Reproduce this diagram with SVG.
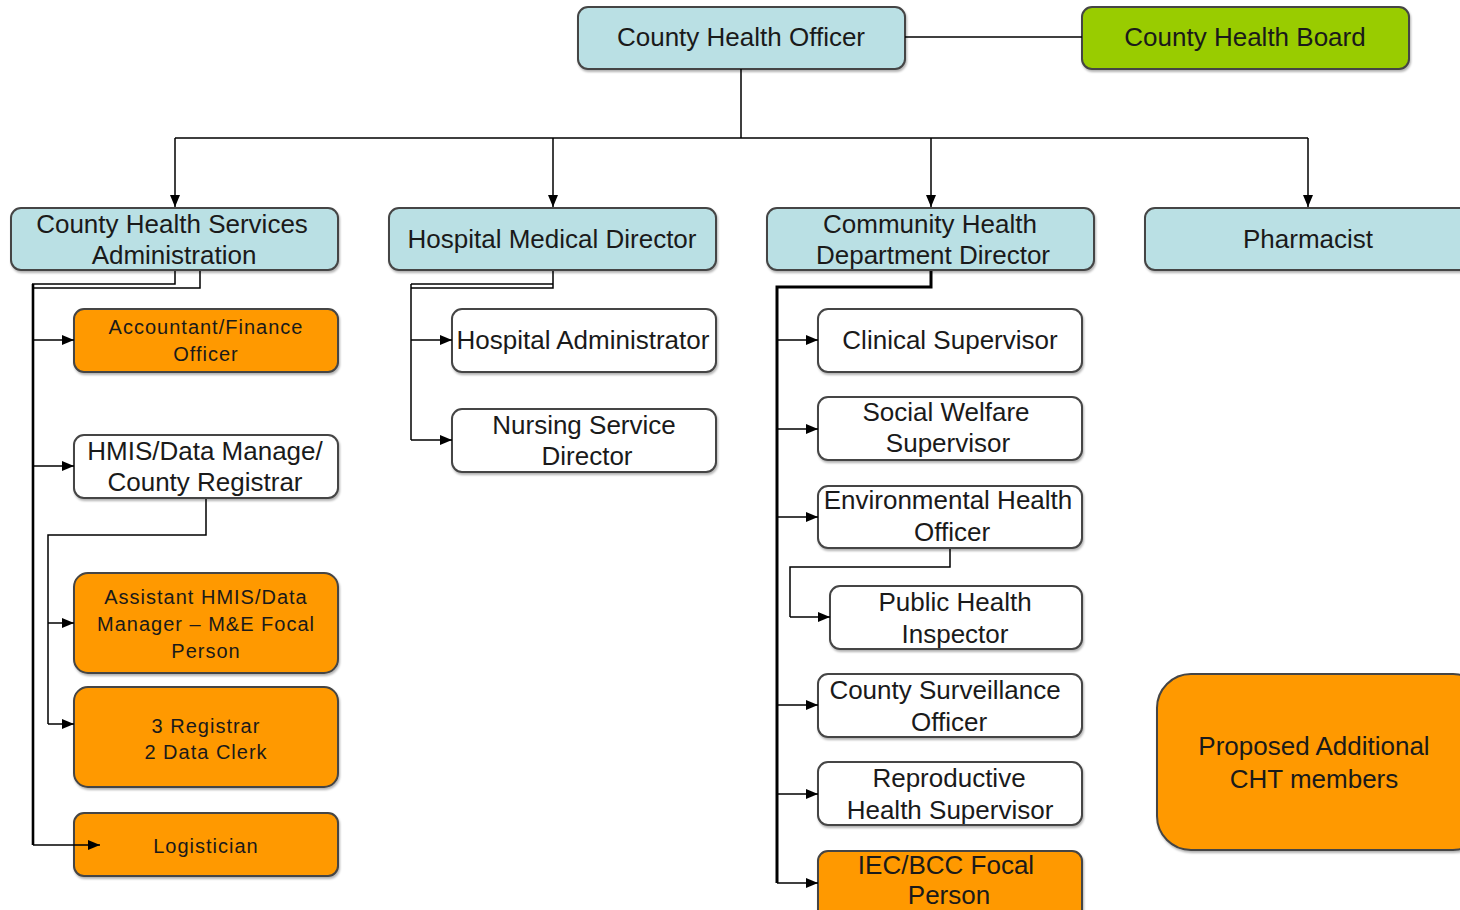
<svg xmlns="http://www.w3.org/2000/svg" width="1460" height="910" viewBox="0 0 1460 910">
<defs>
<marker id="arr" viewBox="0 0 12 10" refX="12" refY="5" markerWidth="12" markerHeight="10" markerUnits="userSpaceOnUse" orient="auto">
<path d="M0,0 L12,5 L0,10 Z" fill="#000"/>
</marker>
<filter id="sh" x="-5%" y="-5%" width="110%" height="120%">
<feDropShadow dx="1" dy="2" stdDeviation="1.2" flood-color="#000" flood-opacity="0.3"/>
</filter>
</defs>
<style>
.box{stroke:#444;stroke-width:2;filter:url(#sh)}
.blue{fill:#BAE0E4}
.green{fill:#99CC00}
.orange{fill:#FF9900}
.white{fill:#FFFFFF}
.t{font-family:"Liberation Sans",Arial,sans-serif;font-size:26px;fill:#1a1a1a;text-anchor:middle}
.s{font-family:"Liberation Sans",Arial,sans-serif;font-size:20px;letter-spacing:1px;fill:#1a1a1a;text-anchor:middle}
.c{fill:none;stroke:#000;stroke-width:1.5}
.ca{fill:none;stroke:#000;stroke-width:1.5;marker-end:url(#arr)}
</style>
<rect width="1460" height="910" fill="#fff"/>

<g id="cho"><rect class="box blue" x="578" y="7" width="327" height="62" rx="10"/><text class="t" x="741" y="46">County Health Officer</text></g>
<g id="chb"><rect class="box green" x="1082" y="7" width="327" height="62" rx="10"/><text class="t" x="1245" y="46">County Health Board</text></g>

<g id="chsa"><rect class="box blue" x="11" y="208" width="327" height="62" rx="10"/><text class="t" x="172" y="233">County Health Services</text><text class="t" x="174" y="264">Administration</text></g>
<g id="hmd"><rect class="box blue" x="389" y="208" width="327" height="62" rx="10"/><text class="t" x="552" y="248">Hospital Medical Director</text></g>
<g id="chdd"><rect class="box blue" x="767" y="208" width="327" height="62" rx="10"/><text class="t" x="930" y="233">Community Health</text><text class="t" x="933" y="264">Department Director</text></g>
<g id="pharm"><rect class="box blue" x="1145" y="208" width="330" height="62" rx="10"/><text class="t" x="1308" y="248">Pharmacist</text></g>

<g id="acc"><rect class="box orange" x="74" y="309" width="264" height="63" rx="10"/><text class="s" x="206" y="334">Accountant/Finance</text><text class="s" x="206" y="361">Officer</text></g>
<g id="hmis"><rect class="box white" x="74" y="435" width="264" height="63" rx="10"/><text class="t" x="205" y="460">HMIS/Data Manage/</text><text class="t" x="205" y="491">County Registrar</text></g>
<g id="ahmis"><rect class="box orange" x="74" y="573" width="264" height="100" rx="14"/><text class="s" x="206" y="604">Assistant HMIS/Data</text><text class="s" x="206" y="631">Manager – M&amp;E Focal</text><text class="s" x="206" y="658">Person</text></g>
<g id="reg"><rect class="box orange" x="74" y="687" width="264" height="100" rx="14"/><text class="s" x="206" y="733">3 Registrar</text><text class="s" x="206" y="759">2 Data Clerk</text></g>
<g id="log"><rect class="box orange" x="74" y="813" width="264" height="63" rx="10"/><text class="s" x="206" y="853">Logistician</text></g>

<g id="ha"><rect class="box white" x="452" y="309" width="264" height="63" rx="10"/><text class="t" x="583" y="349">Hospital Administrator</text></g>
<g id="nsd"><rect class="box white" x="452" y="409" width="264" height="63" rx="10"/><text class="t" x="584" y="434">Nursing Service</text><text class="t" x="587" y="465">Director</text></g>

<g id="cs"><rect class="box white" x="818" y="309" width="264" height="63" rx="10"/><text class="t" x="950" y="349">Clinical Supervisor</text></g>
<g id="sws"><rect class="box white" x="818" y="397" width="264" height="63" rx="10"/><text class="t" x="946" y="421">Social Welfare</text><text class="t" x="948" y="452">Supervisor</text></g>
<g id="eho"><rect class="box white" x="818" y="486" width="264" height="62" rx="10"/><text class="t" x="948" y="509">Environmental Health</text><text class="t" x="952" y="541">Officer</text></g>
<g id="phi"><rect class="box white" x="830" y="586" width="252" height="63" rx="10"/><text class="t" x="955" y="611">Public Health</text><text class="t" x="955" y="643">Inspector</text></g>
<g id="cso"><rect class="box white" x="818" y="674" width="264" height="63" rx="10"/><text class="t" x="945" y="699">County Surveillance</text><text class="t" x="949" y="731">Officer</text></g>
<g id="rhs"><rect class="box white" x="818" y="762" width="264" height="63" rx="10"/><text class="t" x="949" y="787">Reproductive</text><text class="t" x="950" y="819">Health Supervisor</text></g>
<g id="iec"><rect class="box orange" x="818" y="851" width="264" height="80" rx="10"/><text class="t" x="946" y="874">IEC/BCC Focal</text><text class="t" x="949" y="904">Person</text></g>

<g id="proposed"><rect class="box orange" x="1157" y="674" width="330" height="176" rx="34"/><text class="t" x="1314" y="755">Proposed Additional</text><text class="t" x="1314" y="788">CHT members</text></g>

<g id="connectors">
<path class="c" d="M905,37 H1082"/>
<path class="c" d="M741,69 V138 M175,138 H1308"/>
<path class="ca" d="M175,138 V207"/>
<path class="ca" d="M553,138 V207"/>
<path class="ca" d="M931,138 V207"/>
<path class="ca" d="M1308,138 V207"/>
<path class="c" d="M175,271 V284 H32"/>
<path class="c" d="M200,271 V288 H34"/>
<path class="c" style="stroke-width:2.6" d="M33,284 V845"/>
<path class="ca" d="M33,340 H74"/>
<path class="ca" d="M33,466 H74"/>
<path class="ca" d="M33,845 H100"/>
<path class="c" d="M206,499 V535 H48 V724"/>
<path class="ca" d="M48,623 H74"/>
<path class="ca" d="M48,724 H74"/>
<path class="c" d="M553,271 V288 H411"/>
<path class="c" d="M553,284 H411"/>
<path class="c" d="M411,284 V440"/>
<path class="ca" d="M411,340 H452"/>
<path class="ca" d="M411,440 H452"/>
<path class="c" style="stroke-width:3" d="M931,271 V287 H777 V883"/>
<path class="ca" d="M777,340 H818"/>
<path class="ca" d="M777,429 H818"/>
<path class="ca" d="M777,517 H818"/>
<path class="ca" d="M777,705 H818"/>
<path class="ca" d="M777,794 H818"/>
<path class="ca" d="M777,883 H818"/>
<path class="c" d="M950,549 V567 H790 V617"/>
<path class="ca" d="M790,617 H830"/>
</g>
</svg>
